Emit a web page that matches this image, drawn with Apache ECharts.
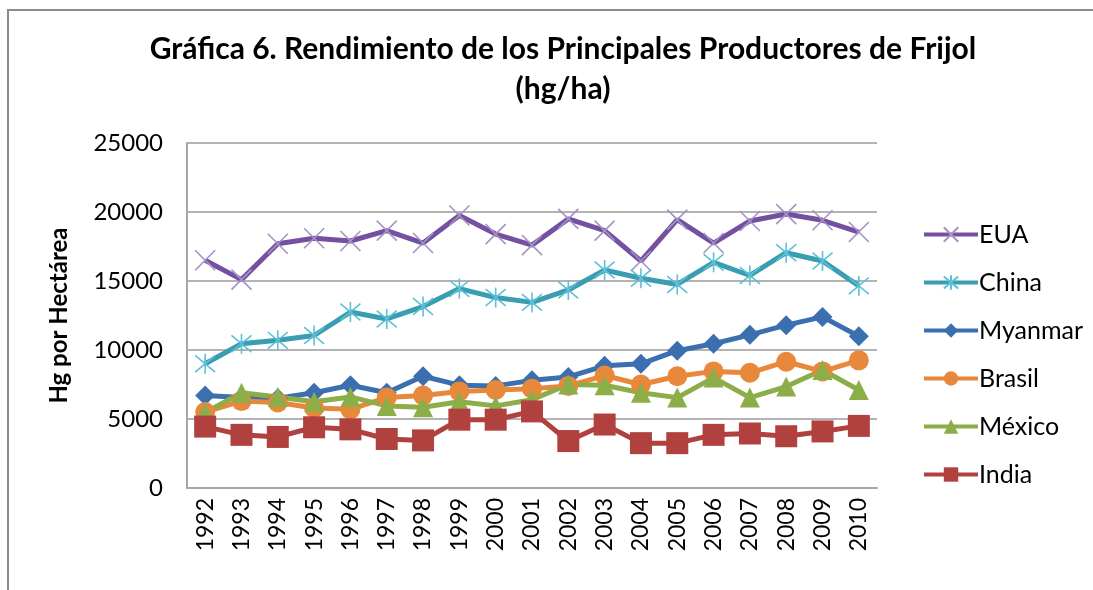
<!DOCTYPE html>
<html>
<head>
<meta charset="utf-8">
<script src="https://cdn.jsdelivr.net/npm/echarts@6/dist/echarts.min.js"></script>
<style>
  html, body { margin: 0; padding: 0; background: #fff; }
  #main { width: 1093px; height: 590px; }
</style>
</head>
<body>
<div id="main"></div>
<script>
// años
const years = ['1992', '1993', '1994', '1995', '1996', '1997', '1998', '1999', '2000', '2001',
  '2002', '2003', '2004', '2005', '2006', '2007', '2008', '2009', '2010'];

// rendimiento hg/ha
const eua = [16500, 15100, 17700, 18100, 17900, 18650, 17750, 19750, 18400, 17600,
  19500, 18650, 16450, 19450, 17750, 19350, 19850, 19400, 18550];
const china = [9000, 10450, 10700, 11050, 12750, 12250, 13150, 14450, 13800, 13450,
  14350, 15800, 15200, 14750, 16350, 15400, 17050, 16450, 14650];
const myanmar = [6700, 6550, 6500, 6900, 7450, 6900, 8100, 7450, 7400, 7800,
  8050, 8850, 9000, 9950, 10450, 11100, 11800, 12400, 11000];
const brasil = [5500, 6300, 6200, 5800, 5700, 6550, 6700, 7000, 7100, 7200,
  7400, 8150, 7500, 8100, 8450, 8350, 9150, 8450, 9250];
const mexico = [5450, 6900, 6600, 6250, 6600, 5950, 5850, 6250, 5950, 6400,
  7500, 7450, 6900, 6550, 8000, 6550, 7350, 8550, 7100];
const india = [4450, 3850, 3700, 4400, 4250, 3550, 3450, 4950, 4950, 5550,
  3400, 4600, 3250, 3250, 3850, 3950, 3750, 4100, 4500];

const yTicks = { min: 0, max: 25000, interval: 5000 };

const FONT = 'Lato';

// marcadores tipo Excel
const xMark = 'path://M0,0L20,20M20,0L0,20';
const starMark = 'path://M0,0L20,20M20,0L0,20M10,-2L10,22';

function serie(name, data, color, symbol, size, markColor) {
  return {
    name: name,
    type: 'line',
    data: data,
    symbol: symbol,
    symbolSize: size,
    showAllSymbol: true,
    lineStyle: { color: color, width: 5 },
    itemStyle: markColor
      ? { color: 'rgba(0,0,0,0)', borderColor: markColor, borderWidth: 1.6 }
      : { color: color, borderWidth: 0 },
    emphasis: { disabled: true },
    z: 3
  };
}

const option = {
  backgroundColor: '#fff',
  animation: false,
  graphic: [{
    type: 'rect',
    shape: { x: 8, y: 10, width: 1300, height: 800 },
    style: { fill: 'none', stroke: '#8c8c8c', lineWidth: 2 },
    silent: true
  }],
  title: {
    text: 'Gráfica 6. Rendimiento de los Principales Productores de Frijol\n(hg/ha)',
    left: 558,
    textAlign: 'center',
    top: 24,
    textStyle: {
      fontFamily: FONT,
      fontSize: 30,
      fontWeight: 'bold',
      color: '#000',
      lineHeight: 40
    }
  },
  legend: {
    orient: 'vertical',
    left: 917,
    top: 217,
    itemWidth: 54,
    itemHeight: 18,
    itemGap: 23,
    lineStyle: { width: 4 },
    textStyle: { fontFamily: FONT, fontSize: 25, color: '#000', padding: [0, 0, 0, -4] },
    data: ['EUA', 'China', 'Myanmar', 'Brasil', 'México', 'India']
  },
  grid: {
    left: 187,
    right: 216,
    top: 143,
    bottom: 102,
    containLabel: false
  },
  xAxis: {
    type: 'category',
    data: years,
    boundaryGap: true,
    axisLine: { lineStyle: { color: '#a6a6a6', width: 2 } },
    axisTick: { show: false },
    axisLabel: {
      rotate: 90,
      margin: 10,
      fontFamily: FONT,
      fontSize: 23,
      color: '#000'
    }
  },
  yAxis: {
    type: 'value',
    min: yTicks.min,
    max: yTicks.max,
    interval: yTicks.interval,
    name: 'Hg por Hectárea',
    nameLocation: 'middle',
    nameGap: 116,
    nameRotate: 90,
    nameTextStyle: { fontFamily: FONT, fontSize: 24, fontWeight: 'bold', color: '#000' },
    axisLine: { show: true, lineStyle: { color: '#a6a6a6', width: 2 } },
    axisTick: { show: false },
    splitLine: { lineStyle: { color: '#b3b3b3', width: 2 } },
    axisLabel: {
      margin: 24,
      fontFamily: FONT,
      fontSize: 24,
      color: '#000',
      formatter: function (v) { return String(v); }
    }
  },
  series: [
    serie('EUA', eua, '#7451a0', xMark, 20, '#a493c6'),
    serie('China', china, '#3a9db2', starMark, 20, '#5cc0d6'),
    serie('Myanmar', myanmar, '#3c6fb0', 'diamond', 20),
    serie('Brasil', brasil, '#e8883a', 'circle', 20),
    serie('México', mexico, '#8bae48', 'triangle', 20),
    serie('India', india, '#b0413e', 'rect', 22)
  ]
};

const chart = echarts.init(document.getElementById('main'));
chart.setOption(option);
</script>
</body>
</html>
